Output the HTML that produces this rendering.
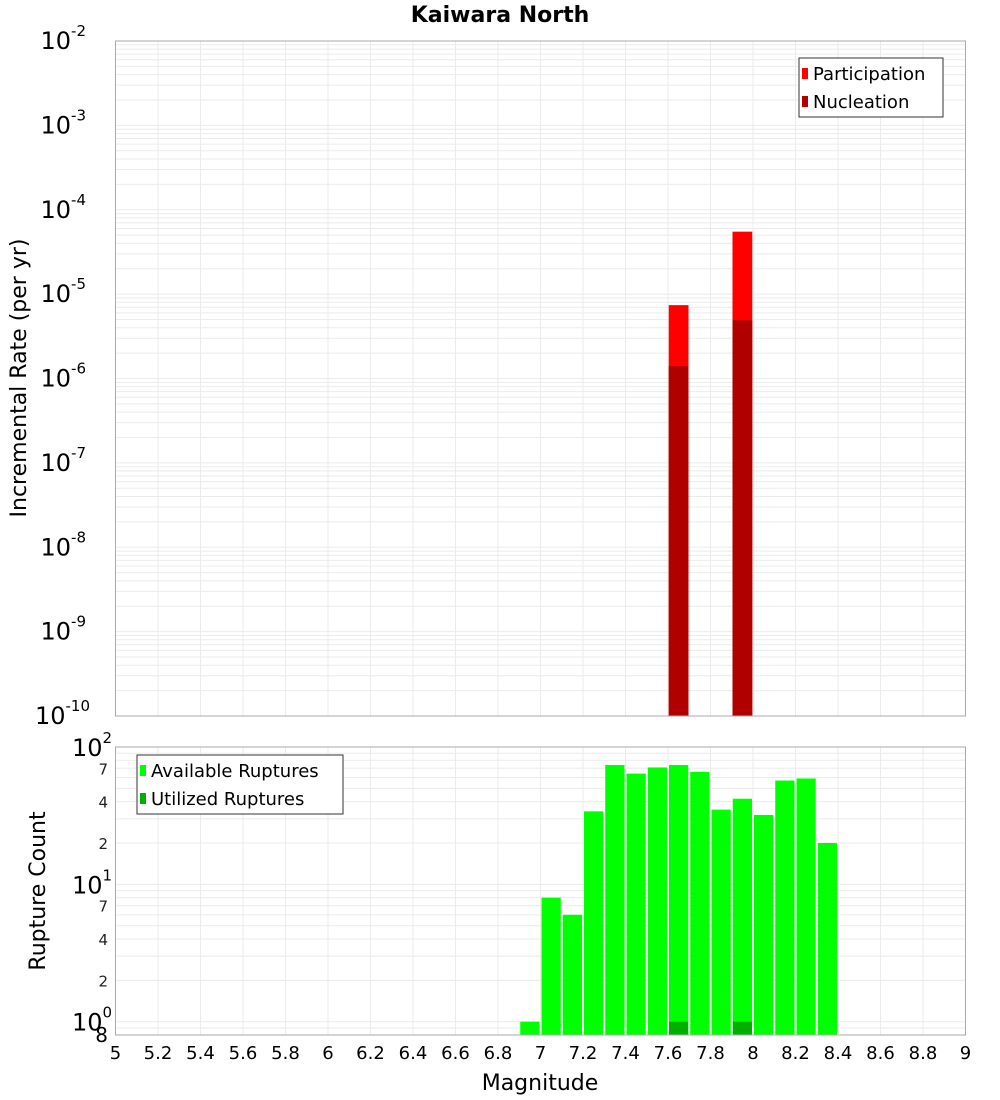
<!DOCTYPE html>
<html><head><meta charset="utf-8"><style>
body{margin:0;background:#fff;}
svg{display:block;font-family:"DejaVu Sans","Liberation Sans",sans-serif;}
</style></head><body>
<svg id="c" width="1000" height="1100" xmlns="http://www.w3.org/2000/svg"></svg>
<script>
const rateMags = [7.65, 7.95];
const participation = [7.4e-6, 5.5e-5];
const nucleation = [1.4e-6, 4.9e-6];
const countMags = [6.95,7.05,7.15,7.25,7.35,7.45,7.55,7.65,7.75,7.85,7.95,8.05,8.15,8.25,8.35];
const available = [1,8,6,34,74,64,71,74,66,35,42,32,57,59,20];
const utilizedMags = [7.65, 7.95];
const utilized = [1, 1];
const xTicks = [5,5.2,5.4,5.6,5.8,6,6.2,6.4,6.6,6.8,7,7.2,7.4,7.6,7.8,8,8.2,8.4,8.6,8.8,9];
const topExps = [-2,-3,-4,-5,-6,-7,-8,-9,-10];

const NS="http://www.w3.org/2000/svg";
const svg=document.getElementById('c');
function el(t,a,p){const e=document.createElementNS(NS,t);for(const k in a)e.setAttribute(k,a[k]);(p||svg).appendChild(e);return e;}
const L=115.5,R=965.5;
const X=m=>L+(m-5)/4*(R-L);
const T1=41,B1=716, T2=747,B2=1035;
const Y1=v=>T1+(-2-Math.log10(v))/8*(B1-T1);
const lmin2=Math.log10(0.8),lmax2=2;
const Y2=v=>T2+(lmax2-Math.log10(v))/(lmax2-lmin2)*(B2-T2);

// grids
const g=el('g',{});

for(const t of xTicks){el('line',{x1:X(t),x2:X(t),y1:T1,y2:B1,stroke:'#ebebeb'},g);el('line',{x1:X(t),x2:X(t),y1:T2,y2:B2,stroke:'#ebebeb'},g);}
for(let e=-10;e<-2;e++)for(let k=1;k<10;k++){const y=Y1(k*Math.pow(10,e));el('line',{x1:L,x2:R,y1:y,y2:y,stroke:'#ebebeb'},g);}
for(let e=-1;e<2;e++)for(let k=1;k<10;k++){const v=k*Math.pow(10,e);if(v<0.8)continue;const y=Y2(v);el('line',{x1:L,x2:R,y1:y,y2:y,stroke:'#ebebeb'},g);}

// top bars
const bw=0.093;
rateMags.forEach((m,i)=>{
 const p=el('rect',{x:X(m-bw/2),y:Y1(participation[i]),width:X(m+bw/2)-X(m-bw/2),height:B1-Y1(participation[i]),fill:'#ff0000'});
 
 const n=el('rect',{x:X(m-bw/2),y:Y1(nucleation[i]),width:X(m+bw/2)-X(m-bw/2),height:B1-Y1(nucleation[i]),fill:'#b00000'});
 
});
// bottom bars
countMags.forEach((m,i)=>{
 const r=el('rect',{x:X(m-0.05)+1,y:Y2(available[i]),width:X(m+0.05)-X(m-0.05)-2,height:B2-Y2(available[i]),fill:'#00ff00'});
 
});
utilizedMags.forEach((m,i)=>{
 const r=el('rect',{x:X(m-0.05)+1,y:Y2(utilized[i]),width:X(m+0.05)-X(m-0.05)-2,height:B2-Y2(utilized[i]),fill:'#00b000'});
 
});
// frames
el('rect',{x:L,y:T1,width:R-L,height:B1-T1,fill:'none',stroke:'#aaa'});
el('rect',{x:L,y:T2,width:R-L,height:B2-T2,fill:'none',stroke:'#aaa'});

function txt(s,a,name){const t=el('text',a);t.textContent=s;return t;}
// top y labels
topExps.forEach(e=>{
 const y=Y1(Math.pow(10,e));
 const t=el('text',{x:104,y:y+8,'font-size':24,'text-anchor':'end',fill:'#000'});
 
 t.textContent='10';
 const s=el('tspan',{dy:-13,'font-size':15},t);s.textContent=String(e);
 t.setAttribute('x',e<=-10?90:86);
});
// bottom y labels
[[100,'2'],[10,'1'],[1,'0']].forEach(([v,e])=>{
 const y=Y2(v);
 const t=el('text',{x:72,y:y+9,'font-size':24,fill:'#000'});
 
 t.textContent='10';const s=el('tspan',{dy:-13,'font-size':15},t);s.textContent=e;
});
[[70,'7'],[40,'4'],[20,'2'],[7,'7'],[4,'4'],[2,'2']].forEach(([v,s])=>{
 txt(s,{x:108,y:Y2(v)+6,'font-size':15,'text-anchor':'end',fill:'#222'},'bottom-y-minor-label');
});
txt('8',{x:108,y:1042,'font-size':20,'text-anchor':'end',fill:'#000'},'bottom-y-minor-label');
// x labels
xTicks.forEach(t=>txt(String(t),{x:X(t),y:1059,'font-size':18,'text-anchor':'middle',fill:'#000'},'x-tick-label'));
txt('Magnitude',{x:540,y:1090,'font-size':22,'text-anchor':'middle',fill:'#000'},'x-axis-title');
txt('Kaiwara North',{x:500,y:22,'font-size':22,'font-weight':'bold','text-anchor':'middle',fill:'#000'},'chart-title');
txt('Incremental Rate (per yr)',{x:0,y:0,'font-size':22,'text-anchor':'middle',fill:'#000',transform:'translate(26,378) rotate(-90)'},'top-y-axis-title');
txt('Rupture Count',{x:0,y:0,'font-size':22,'text-anchor':'middle',fill:'#000',transform:'translate(45,891) rotate(-90)'},'bottom-y-axis-title');

// legends
function legend(x,y,w,items,name){
 const lg=el('g',{});
 el('rect',{x:x,y:y,width:w,height:59,fill:'#fff',stroke:'#333'},lg);
 items.forEach(([lab,c],i)=>{
  el('rect',{x:x+3,y:y+10+i*28,width:6,height:11,fill:c},lg);
  const t=el('text',{x:x+14,y:y+22+i*28,'font-size':18,fill:'#000'},lg);t.textContent=lab;
 });
}
legend(799,58,144,[['Participation','#ff0000'],['Nucleation','#b00000']],'top-legend');
legend(137,755,206,[['Available Ruptures','#00ff00'],['Utilized Ruptures','#00b000']],'bottom-legend');
</script>
</body></html>
